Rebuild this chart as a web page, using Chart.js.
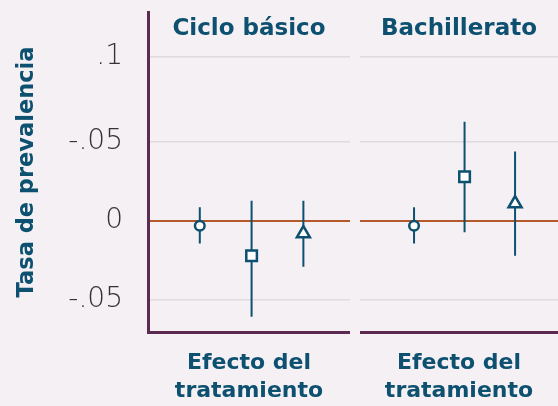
<!DOCTYPE html>
<html><head><meta charset="utf-8">
<script src="https://cdn.jsdelivr.net/npm/chart.js@4/dist/chart.umd.min.js"></script>
<style>
html,body{margin:0;padding:0;background:#f4f0f4;width:558px;height:406px;overflow:hidden;}
canvas{position:absolute;top:0;}
#c1{left:0;}
#c2{left:360px;}
</style></head><body>
<canvas id="c1" width="350" height="406"></canvas>
<canvas id="c2" width="198" height="406"></canvas>
<script>
// ---- data ----
const panelTitles = ['Ciclo básico', 'Bachillerato'];
const markerStyles = ['circle', 'rect', 'triangle'];
const xPositions = [1, 2, 3];
const basicoEst = [-0.003, -0.022, -0.008];
const basicoLo  = [-0.0142, -0.0606, -0.029];
const basicoHi  = [0.0087, 0.0128, 0.0128];
const bachEst = [-0.003, 0.028, 0.011];
const bachLo  = [-0.0142, -0.0072, -0.022];
const bachHi  = [0.0087, 0.0628, 0.0439];
const yTickValues = [-0.05, 0, 0.05, 0.104];
const yTickLabels = ['-.05', '0', '-.05', '.1'];
const yRange = [-0.0703, 0.1323];
const xTitle = ['Efecto del', 'tratamiento'];
const yTitle = 'Tasa de prevalencia';

// ---- style ----
const TEAL = '#0d5070', PURPLE = '#5d2a52', ORANGE = '#b5582c', GRID = '#dfdadf';
const BOLD = 'DejaVu Sans';

function whiskerData(lo, hi) {
  const d = [];
  xPositions.forEach((x, i) => { d.push({x, y: lo[i]}, {x, y: hi[i]}, {x, y: null}); });
  return d;
}
function markerData(est) { return xPositions.map((x, i) => ({x, y: est[i]})); }

function makeChart(id, title, est, lo, hi, first, xMin, xMax) {
  return new Chart(document.getElementById(id), {
    type: 'scatter',
    data: {
      datasets: [
        { type: 'scatter', data: markerData(est), pointStyle: markerStyles,
          pointRadius: [4.8, 7.5, 7.5], pointBackgroundColor: '#ffffff',
          pointBorderColor: TEAL, pointBorderWidth: 2.5, showLine: false },
        { type: 'line', data: whiskerData(lo, hi), borderColor: TEAL, borderWidth: 2,
          pointRadius: 0, spanGaps: false, fill: false }
      ]
    },
    options: {
      responsive: false, animation: false, events: [],
      layout: { autoPadding: false, padding: { top: 12, left: 0, right: 0, bottom: 0 } },
      plugins: { legend: { display: false }, tooltip: { enabled: false }, title: { display: false } },
      scales: {
        x: { type: 'linear', min: xMin, max: xMax,
          afterFit: s => { s.height = 74; },
          ticks: { display: false },
          grid: { display: true, color: 'rgba(0,0,0,0)', drawTicks: false },
          border: { display: true, color: PURPLE, width: 3 },
          title: { display: true, text: xTitle, color: TEAL,
            font: { family: BOLD, size: 22, weight: 'bold', lineHeight: 1.27 },
            padding: { top: 0, bottom: 1 } } },
        xTop: { type: 'linear', position: 'top', min: xMin, max: xMax,
          afterFit: s => { s.height = 0; },
          ticks: { display: false },
          grid: { display: false, drawTicks: false },
          border: { display: false },
          title: { display: true, text: title, color: TEAL,
            font: { family: BOLD, size: 23, weight: 'bold', lineHeight: 1.2 },
            padding: { top: 3, bottom: 0 } } },
        y: { min: yRange[0], max: yRange[1],
          afterBuildTicks: s => { s.ticks = yTickValues.map(v => ({ value: v })); },
          afterFit: s => { s.width = first ? 148 : 0; s.paddingTop = 0; s.paddingBottom = 0; },
          ticks: { display: first, padding: 25, color: '#333333',
            font: { family: 'DejaVu Sans', size: 28, weight: 200 },
            callback: (v, i) => yTickLabels[i] },
          grid: { drawTicks: false,
            color: c => (c.tick && c.tick.value === 0) ? ORANGE : GRID,
            lineWidth: c => (c.tick && c.tick.value === 0) ? 2 : 1.5 },
          border: { display: first, color: PURPLE, width: 3 },
          title: { display: first, text: yTitle, color: TEAL,
            font: { family: BOLD, size: 22.5, weight: 'bold', lineHeight: 1.2 },
            padding: { top: 14, bottom: 0 } } }
      }
    }
  });
}

makeChart('c1', panelTitles[0], basicoEst, basicoLo, basicoHi, true, 0, 3.9);
makeChart('c2', panelTitles[1], bachEst, bachLo, bachHi, false, -0.07, 3.85);
</script>
</body></html>
